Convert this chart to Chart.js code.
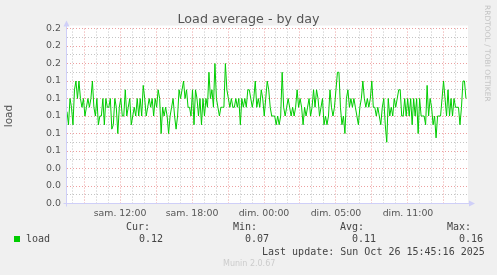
<!DOCTYPE html>
<html>
<head>
<meta charset="utf-8">
<script src="https://cdn.jsdelivr.net/npm/chart.js@4/dist/chart.umd.min.js"></script>
<style>
  html, body { margin: 0; padding: 0; background: #F0F0F0; }
  #wrap { position: relative; width: 497px; height: 275px; overflow: hidden; }
  canvas { position: absolute; left: 0; top: 0; }
  .t { position: absolute; font-family: 'DejaVu Sans Mono', monospace; font-size: 10px; line-height: 12px; color: #444; white-space: pre; }
  #swatch { position: absolute; left: 14px; top: 236px; width: 6px; height: 6px; background: #00CC00; }
  #munin { position: absolute; left: 223px; top: 259px; font-family: 'DejaVu Sans', sans-serif; font-size: 8px; line-height: 10px; color: #CCCCCC; }
  #mark { position: absolute; left: 492px; top: 5px; transform: rotate(90deg); transform-origin: 0 0;
          font-family: 'DejaVu Sans', sans-serif; font-size: 7.5px; line-height: 9px; color: #C4C4C4; white-space: pre; }
</style>
</head>
<body>
<div id="wrap">
  <canvas id="loadChart" width="497" height="275"></canvas>
  <div id="swatch"></div>
  <div class="t" style="left:26px;top:233px">load</div>
  <div class="t" style="left:126px;top:221px">Cur:</div>
  <div class="t" style="left:139px;top:233px">0.12</div>
  <div class="t" style="left:233px;top:221px">Min:</div>
  <div class="t" style="left:245px;top:233px">0.07</div>
  <div class="t" style="left:340px;top:221px">Avg:</div>
  <div class="t" style="left:352px;top:233px">0.11</div>
  <div class="t" style="left:447px;top:221px">Max:</div>
  <div class="t" style="left:459px;top:233px">0.16</div>
  <div class="t" style="left:262px;top:246px">Last update: Sun Oct 26 15:45:16 2025</div>
  <div id="munin">Munin 2.0.67</div>
  <div id="mark">RRDTOOL / TOBI OETIKER</div>
</div>
<script>
// load average, one sample every ~7.5 min
const loadValues = [
  0.105,0.09,0.12,0.11,0.09,0.13,0.14,0.12,0.14,0.12, 0.11,0.12,0.10,0.11,0.12,0.11,0.12,0.14,0.11,0.10,
  0.12,0.09,0.10,0.10,0.12,0.09,0.12,0.11,0.11,0.12, 0.085,0.09,0.12,0.11,0.08,0.11,0.12,0.10,0.10,0.13,
  0.10,0.11,0.12,0.09,0.10,0.11,0.10,0.12,0.10,0.12, 0.10,0.135,0.12,0.10,0.11,0.12,0.11,
  0.12,0.10,0.12,0.11,0.13,0.12,0.08,0.11,0.10,0.11, 0.10,0.08,0.10,0.11,0.12,0.10,0.085,0.10,0.13,0.12,
  0.13,0.14,0.12,0.13,0.11,0.11,0.10,0.13,0.09,0.13, 0.12,0.10,0.12,0.09,0.12,0.10,0.12,0.11,0.15,0.12,
  0.13,0.11,0.16,0.12,0.11,0.10,0.11,0.11,0.11,0.16, 0.13,0.12,0.11,0.12,0.11,
  0.11,0.12,0.11,0.12,0.09,0.12,0.11,0.12,0.11,0.13, 0.13,0.12,0.11,0.12,0.14,0.11,0.12,0.11,0.13,0.12,
  0.10,0.12,0.14,0.13,0.11,0.10,0.10,0.10,0.09,0.10, 0.09,0.10,0.15,0.11,0.10,0.11,0.12,0.11,0.10,0.11,
  0.10,0.11,0.13,0.11,0.12,0.11,0.09,0.11,0.10,0.11, 0.12,0.10,0.11,0.13,0.11,
  0.13,0.12,0.10,0.11,0.12,0.09,0.10,0.09,0.10,0.13, 0.11,0.10,0.11,0.13,0.15,0.15,0.11,0.09,0.10,0.08,
  0.12,0.13,0.11,0.12,0.11,0.12,0.11,0.10,0.09,0.11, 0.12,0.14,0.12,0.11,0.12,0.11,0.12,0.14,0.11,0.11,
  0.10,0.11,0.10,0.09,0.11,0.12,0.09,0.07,0.12,0.10, 0.11,0.10,0.12,0.11,0.12,0.13,0.13,0.10,
  0.10,0.12,0.10,0.12,0.10,0.12,0.09,0.12,0.10,0.12, 0.08,0.12,0.10,0.10,0.10,0.09,0.135,0.10,0.12,0.11,
  0.09,0.10,0.075,0.10,0.10,0.10,0.12,0.14,0.12,0.10, 0.13,0.10,0.12,0.10,0.12,0.11,0.11,0.11,0.09,0.11,
  0.14,0.14,0.12
];

// hours counted from sam. 08:00
const startHour = -0.4167;   // sam. 07:35
const endHour = 32.83;
const axisMin = -0.4167;
const axisMax = 32.9167;

const xLabelHours = [4, 10, 16, 22, 28];
const xLabels = ['sam. 12:00', 'sam. 18:00', 'dim. 00:00', 'dim. 05:00', 'dim. 11:00'];
const yLabels = ['0.0', '0.0', '0.0', '0.1', '0.1', '0.1', '0.1', '0.1', '0.2', '0.2', '0.2'];

const RED = 'rgba(228,120,120,0.7)';
const GREY = 'rgba(190,190,190,0.9)';
const AXIS = '#CFCFF8';

const points = loadValues.map((v, i) => ({
  x: startHour + i * (endHour - startHour) / (loadValues.length - 1),
  y: v
}));

const paperPlugin = {
  id: 'paper',
  beforeDraw(chart) {
    const { ctx, chartArea: a } = chart;
    ctx.save();
    ctx.fillStyle = '#FFFFFF';
    ctx.fillRect(a.left - 1, a.top - 3, a.right - a.left + 2, a.bottom - a.top + 3);
    ctx.restore();
  },
  afterDraw(chart) {
    const { ctx, chartArea: a } = chart;
    const x0 = Math.round(a.left) - 0.5;
    const y0 = Math.round(a.bottom) - 0.5;
    ctx.save();
    ctx.strokeStyle = AXIS;
    ctx.fillStyle = AXIS;
    ctx.lineWidth = 1;
    ctx.beginPath();
    ctx.moveTo(x0, y0 + 3);
    ctx.lineTo(x0, a.top - 4);
    ctx.moveTo(x0 - 3, y0);
    ctx.lineTo(a.right + 4, y0);
    ctx.stroke();
    ctx.beginPath();
    ctx.moveTo(x0 - 3, a.top - 2);
    ctx.lineTo(x0 + 3, a.top - 2);
    ctx.lineTo(x0, a.top - 8);
    ctx.closePath();
    ctx.fill();
    ctx.beginPath();
    ctx.moveTo(a.right + 2, y0 - 3);
    ctx.lineTo(a.right + 2, y0 + 3);
    ctx.lineTo(a.right + 8, y0);
    ctx.closePath();
    ctx.fill();
    ctx.restore();
  }
};

new Chart(document.getElementById('loadChart'), {
  type: 'line',
  data: {
    datasets: [{
      label: 'load',
      data: points,
      borderColor: '#00CC00',
      borderWidth: 1,
      pointRadius: 0,
      tension: 0,
      fill: false
    }]
  },
  options: {
    responsive: false,
    animation: false,
    events: [],
    layout: { padding: 0 },
    plugins: {
      legend: { display: false },
      tooltip: { enabled: false },
      title: {
        display: true,
        text: 'Load average - by day',
        color: '#555555',
        font: { family: 'DejaVu Sans', size: 12.7, weight: 'normal' },
        padding: { top: 12, bottom: 1.3 }
      }
    },
    scales: {
      x: {
        type: 'linear',
        min: axisMin,
        max: axisMax,
        afterBuildTicks(scale) {
          const t = [];
          for (let h = 0; h <= 32; h++) t.push({ value: h });
          scale.ticks = t;
        },
        afterFit(scale) {
          // leave room on the right for the watermark
          scale.height = 275 - 203.5;
          scale.paddingLeft = 0;
          scale.paddingRight = 30;
        },
        ticks: {
          autoSkip: false,
          maxRotation: 0,
          minRotation: 0,
          padding: 4,
          color: '#555555',
          font: { family: 'DejaVu Sans', size: 9.4 },
          callback(v) {
            const k = xLabelHours.indexOf(v);
            return k >= 0 ? xLabels[k] : '';
          }
        },
        grid: {
          drawTicks: false,
          color: ctx => (ctx.tick && ctx.tick.value % 3 === 1) ? RED : GREY
        },
        border: { display: false, dash: [1, 2] }
      },
      y: {
        min: 0,
        max: 0.2,
        afterBuildTicks(scale) {
          const t = [];
          for (let i = 0; i <= 20; i++) t.push({ value: i / 100 });
          scale.ticks = t;
        },
        afterFit(scale) {
          scale.width = 67;
          scale.paddingTop = 0;
          scale.paddingBottom = 0;
        },
        ticks: {
          autoSkip: false,
          padding: 6,
          color: '#555555',
          font: { family: 'DejaVu Sans', size: 9.4 },
          callback(v, i) {
            return i % 2 === 0 ? yLabels[i / 2] : '';
          }
        },
        grid: {
          drawTicks: false,
          color: ctx => (ctx.index % 2 === 0) ? RED : GREY
        },
        border: { display: false, dash: [1, 2] },
        title: {
          display: true,
          text: 'load',
          color: '#555555',
          font: { family: 'DejaVu Sans', size: 10.5 },
          padding: { top: 3, bottom: 0 }
        }
      }
    }
  },
  plugins: [paperPlugin]
});
</script>
</body>
</html>
